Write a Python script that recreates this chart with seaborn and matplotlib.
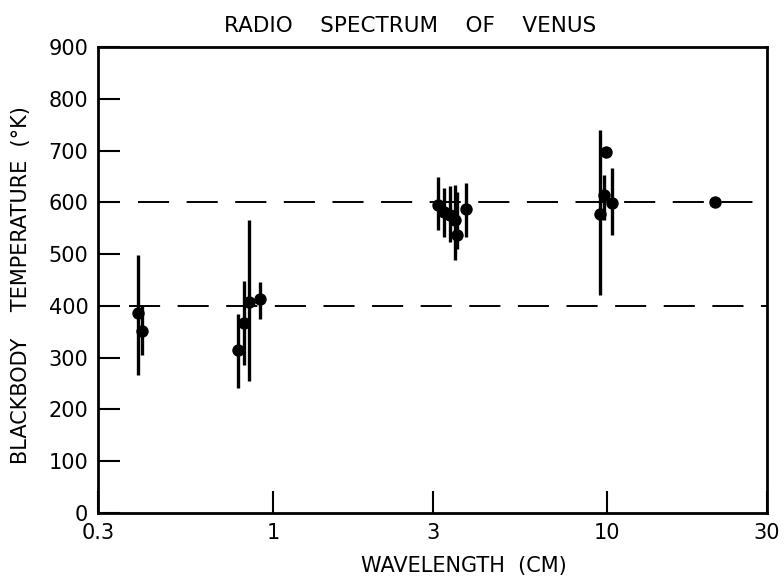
import numpy as np
import pandas as pd
import seaborn as sns
from matplotlib import pyplot as plt

sns.set_style("ticks")
plt.rcParams["font.family"] = ["DejaVu Sans"]
plt.rcParams["text.color"] = "black"
plt.rcParams["axes.labelcolor"] = "black"
plt.rcParams["xtick.color"] = "black"
plt.rcParams["ytick.color"] = "black"

wavelength_cm = [0.394, 0.405, 0.786, 0.82, 0.85, 0.914,
                 3.11, 3.24, 3.38, 3.50, 3.55, 3.77,
                 9.5, 9.75, 9.88, 10.3, 21.0]
temperature_k = [387, 351, 315, 366, 408, 413,
                 595, 582, 576, 566, 537, 587,
                 577, 614, 698, 598, 601]
temp_high = [498, 402, 384, 449, 566, 447,
             649, 627, 632, 633, 620, 637,
             740, 653, 698, 666, 601]
temp_low = [266, 305, 241, 286, 254, 374,
            547, 534, 524, 489, 510, 534,
            421, 566, 698, 537, 601]

ref_levels = [400, 600]
ref_start = [0.371, 0.395]

x_ticks = [0.3, 1, 3, 10, 30]
x_tick_labels = ["0.3", "1", "3", "10", "30"]
y_ticks = list(range(0, 1000, 100))

df = pd.DataFrame({"wavelength": wavelength_cm, "temp": temperature_k,
                   "lo": temp_low, "hi": temp_high})

fig = plt.figure(figsize=(7.84, 5.81), dpi=100)
ax = fig.add_axes([98 / 784, 68 / 581, 669 / 784, 466 / 581])

ax.set_xscale("log")
ax.set_xlim(0.3, 30)
ax.set_ylim(0, 900)

for lvl, start in zip(ref_levels, ref_start):
    ax.plot([start, 30], [lvl, lvl], color="black", lw=1.4,
            dashes=(16, 9), zorder=1)

bars = df[df["hi"] > df["lo"]]
ax.vlines(bars["wavelength"], bars["lo"], bars["hi"], color="black", lw=2.4, zorder=2)

sns.scatterplot(data=df, x="wavelength", y="temp", ax=ax, color="black",
                s=80, edgecolor="black", linewidth=0, zorder=3, legend=False)

ax.set_xticks(x_ticks)
ax.set_xticklabels(x_tick_labels)
ax.xaxis.set_minor_locator(plt.NullLocator())
ax.set_yticks(y_ticks)
ax.tick_params(axis="both", direction="in", length=16, width=1.5,
               labelsize=15, pad=7)

for side in ["left", "right", "top", "bottom"]:
    ax.spines[side].set_linewidth(2)
    ax.spines[side].set_color("black")

ax.set_xlabel("WAVELENGTH  (CM)", fontsize=15)
ax.xaxis.set_label_coords(0.547, -0.092)
ax.set_ylabel("BLACKBODY    TEMPERATURE  (°K)", fontsize=15)
ax.yaxis.set_label_coords(-0.1, 0.489)
ax.set_title("RADIO    SPECTRUM    OF    VENUS", fontsize=15.5, pad=11, x=0.466)

fig.savefig("out.png", dpi=100)
